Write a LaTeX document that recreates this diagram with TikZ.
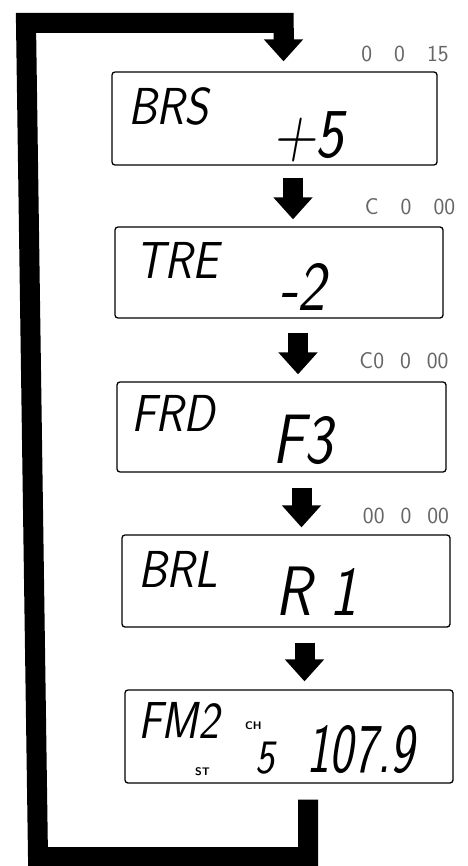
\documentclass[tikz,border=0pt]{standalone}
\usetikzlibrary{arrows.meta}
\newcommand{\narrow}[2]{\scalebox{#1}[1]{#2}}
\tikzset{
  lcd/.style={draw=black, line width=1.3pt, rounded corners=3pt, inner sep=0pt},
  seg/.style={inner sep=0pt, anchor=base west, font=\sffamily\slshape},
  bigtxt/.style={seg, font=\fontsize{52}{52}\selectfont\sffamily\slshape},
  numtxt/.style={seg, font=\fontsize{70}{70}\selectfont\sffamily\slshape},
  tinytxt/.style={seg, font=\fontsize{11}{11}\selectfont\sffamily\bfseries},
  dots/.style={inner sep=0pt, font=\fontsize{23}{23}\selectfont\sffamily, text=black!60},
  blockarrow/.style={line width=20pt, -{Triangle[width=38pt,length=22pt]}},
  loopline/.style={line width=20pt, line join=miter},
}
\begin{document}
\begin{tikzpicture}[x=1pt,y=-1pt]
\useasboundingbox (0,0) rectangle (467,866);
% boxes
\node[lcd, minimum width=325pt, minimum height=93pt] (box1) at (274.5,118.5) {};
\node[lcd, minimum width=328pt, minimum height=91pt] (box2) at (279,272.5) {};
\node[lcd, minimum width=329pt, minimum height=90pt] (box3) at (281.5,427) {};
\node[lcd, minimum width=328pt, minimum height=92pt] (box4) at (286,581) {};
\node[lcd, minimum width=328pt, minimum height=93pt] (box5) at (289,736.5) {};
% texts
\node[bigtxt] (t1a) at (128,125) {\narrow{0.88}{BRS}};
\node[numtxt] (t1b) at (272,158) {\narrow{0.85}{+5}};
\node[bigtxt] (t2a) at (135,278) {\narrow{0.88}{TRE}};
\node[numtxt] (t2b) at (279,310) {\narrow{0.85}{-2}};
\node[bigtxt] (t3a) at (131,431) {\narrow{0.88}{FRD}};
\node[numtxt] (t3b) at (272,463) {\narrow{0.85}{F3}};
\node[bigtxt] (t4a) at (138,587) {\narrow{0.88}{BRL}};
\node[numtxt] (t4b) at (275,615) {\narrow{0.85}{R 1}};
\node[bigtxt] (t5a) at (138,738) {\narrow{0.85}{FM2}};
\node[tinytxt] (t5ch) at (245,729) {CH};
\node[tinytxt] (t5st) at (195,775) {ST};
\node[numtxt, font=\fontsize{48}{48}\selectfont\sffamily\slshape] (t5p) at (255,773) {\narrow{0.85}{5}};
\node[numtxt] (t5f) at (306,772) {\narrow{0.72}{107.9}};
% small indicator digits
\node[dots] (d1) at (405,54) {0\hspace{22pt}0\hspace{22pt}15};
\node[dots] (d2) at (410,207) {C\hspace{22pt}0\hspace{22pt}00};
\node[dots] (d3) at (404,361) {C0\hspace{16pt}0\hspace{16pt}00};
\node[dots] (d4) at (406,516) {00\hspace{16pt}0\hspace{16pt}00};
% arrows between boxes
\draw[blockarrow] ([xshift=18.5pt,yshift=-12pt]box1.south) -- ([xshift=14pt,yshift=7pt]box2.north);
\draw[blockarrow] ([xshift=19pt,yshift=-14pt]box2.south) -- ([xshift=16.5pt,yshift=7pt]box3.north);
\draw[blockarrow] ([xshift=20pt,yshift=-15pt]box3.south) -- ([xshift=15.5pt,yshift=7pt]box4.north);
\draw[blockarrow] ([xshift=18.5pt,yshift=-15pt]box4.south) -- ([xshift=15.5pt,yshift=8pt]box5.north);
% return loop
\coordinate (lb) at ([xshift=19pt,yshift=-16pt]box5.south);
\coordinate (lt) at ([xshift=9pt,yshift=10pt]box1.north);
\draw[loopline] (lb) -- (308,857) -- (38,857) -- (26,23) -- (lt |- 0,23) -- ([yshift=-8pt]lt |- 0,40);
\draw[blockarrow] ([yshift=12pt]lt |- 0,40) -- (lt);
\end{tikzpicture}
\end{document}
